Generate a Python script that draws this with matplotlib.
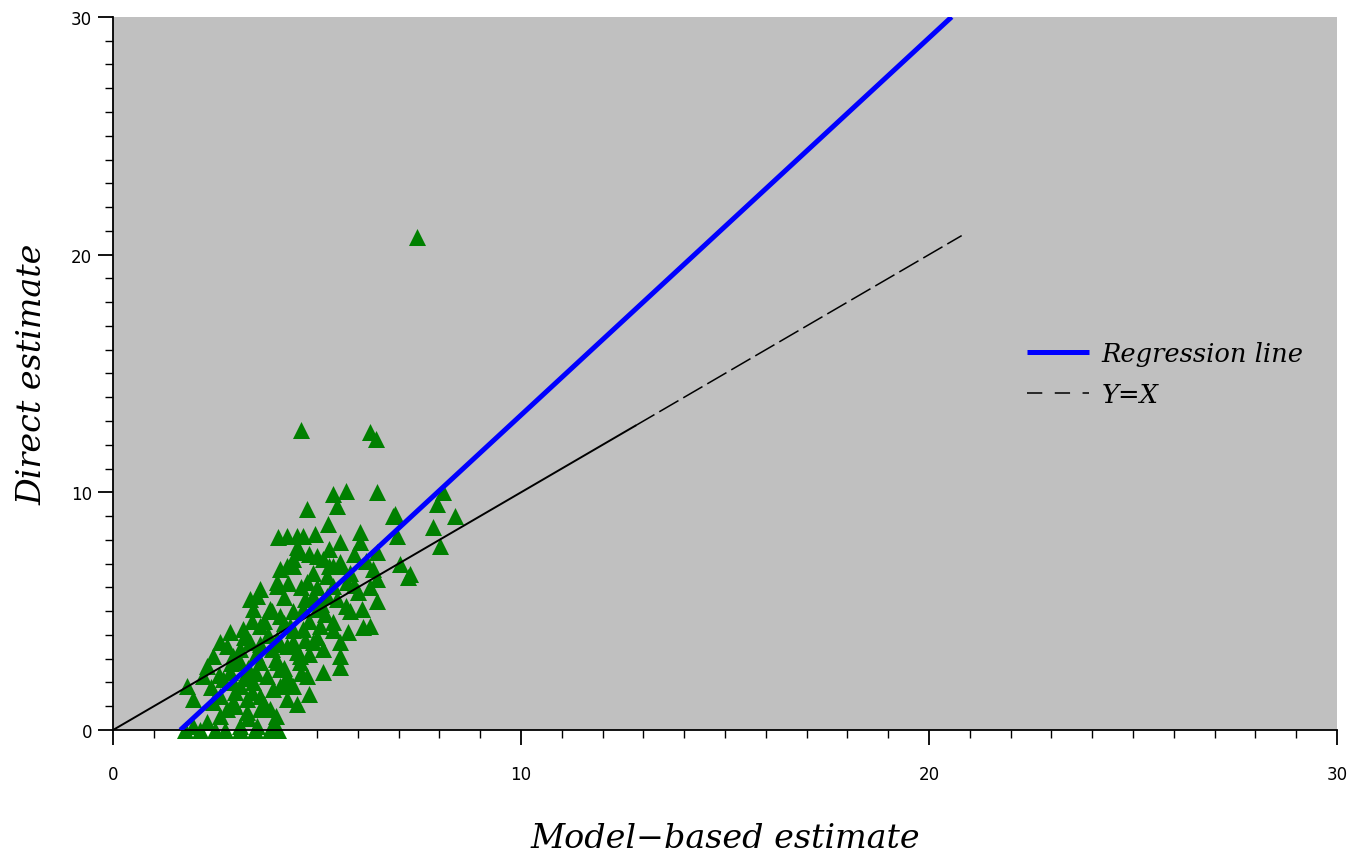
import numpy as np
import matplotlib.pyplot as plt
from matplotlib.ticker import MultipleLocator

plt.rcParams['lines.scale_dashes'] = False

# scatter points (model-based, direct)
model_est = [
    7.45, 4.61, 6.30, 6.45, 5.71, 5.39, 5.49, 6.47, 4.75, 5.27,
    6.86, 6.96, 6.05, 6.05, 5.56, 4.04, 4.26, 4.51, 4.66, 4.95,
    8.09, 7.94, 8.38, 7.84, 8.01, 7.03, 7.23, 6.47, 6.37, 6.47,
    6.47, 6.30, 6.13, 5.81, 5.76, 5.56, 5.56, 5.56, 5.15, 4.75,
    5.15, 4.58, 1.81, 2.30, 2.62, 2.87, 3.36, 3.53, 3.85, 3.43,
    4.02, 4.09, 4.41, 4.58, 5.00, 5.15, 5.39, 5.56, 5.25, 5.74,
    4.75, 3.60, 3.19, 2.79, 2.45, 2.21, 1.96, 2.45, 2.62, 2.30,
    1.96, 3.11, 3.53, 3.92, 3.28, 3.60, 3.92, 4.26, 3.77, 4.09,
    4.58, 3.28, 3.60, 3.11, 4.41, 4.02, 3.36, 2.94, 2.87, 2.70,
    3.11, 4.09, 4.34, 4.66, 4.90, 5.25, 5.39, 5.00, 4.66, 5.07,
    5.39, 4.90, 4.26, 4.02, 4.26, 4.41, 4.09, 3.60, 3.28, 3.85,
    2.94, 3.43, 3.11, 2.62, 2.94, 4.26, 4.02, 3.60, 6.91, 7.28,
    1.77, 2.13, 2.50, 2.74, 3.11, 3.48, 3.85, 4.04,
    4.40, 4.70, 5.00, 4.20, 3.80, 3.50, 4.50, 5.20, 5.50, 4.80,
    3.30, 3.90, 4.30, 5.80, 6.00, 5.60, 6.20, 4.50, 3.70, 3.20,
    3.00, 3.40, 3.70, 4.00, 3.30, 2.80, 4.30, 4.60, 4.00, 3.60,
    4.80, 5.00, 4.40, 3.90, 4.20, 4.60, 4.90, 5.30, 5.10, 5.70,
    5.90, 4.10, 3.40, 2.90, 2.60, 2.40, 3.00, 4.80, 4.50, 3.20,
    4.40, 4.80, 5.30, 5.90, 6.30, 6.10, 5.40, 4.70, 3.50, 4.20,
]
direct_est = [
    20.74, 12.62, 12.54, 12.24, 10.05, 9.93, 9.42, 10.01, 9.30, 8.67,
    9.00, 8.16, 8.33, 7.91, 7.91, 8.12, 8.16, 8.16, 8.16, 8.25,
    10.00, 9.50, 9.00, 8.54, 7.74, 6.98, 6.44, 7.49, 6.77, 6.35,
    5.43, 4.38, 4.33, 5.00, 4.12, 3.70, 3.11, 2.65, 2.44, 2.27,
    3.41, 3.11, 1.85, 2.69, 3.70, 4.12, 5.51, 5.64, 5.09, 5.09,
    6.06, 6.77, 6.90, 7.49, 7.32, 7.19, 6.90, 7.07, 6.48, 6.23,
    6.23, 4.38, 4.25, 3.53, 3.11, 2.27, 1.30, 1.18, 0.59, 0.34,
    0.17, 0.17, 0.17, 0.17, 1.30, 1.43, 1.72, 1.30, 2.27, 2.57,
    2.86, 2.27, 2.86, 2.86, 3.70, 3.83, 3.70, 3.11, 2.44, 2.15,
    3.41, 4.80, 4.38, 5.09, 5.64, 5.64, 6.06, 5.09, 4.25, 4.38,
    4.54, 3.70, 3.53, 2.86, 2.27, 1.85, 1.85, 0.88, 0.76, 0.88,
    1.18, 2.02, 1.85, 1.43, 2.02, 6.90, 6.23, 5.93, 9.09, 6.56,
    0.0, 0.0, 0.0, 0.0, 0.0, 0.0, 0.0, 0.0,
    5.00, 5.50, 6.00, 4.50, 4.00, 3.20, 3.30, 4.90, 5.50, 4.60,
    2.60, 3.40, 6.20, 6.60, 5.80, 6.90, 7.10, 7.70, 4.60, 3.90,
    1.00, 1.60, 1.10, 0.60, 0.50, 0.90, 2.00, 2.40, 3.00, 3.60,
    3.20, 3.90, 4.20, 5.00, 5.60, 6.00, 6.60, 6.90, 5.30, 5.20,
    6.10, 3.60, 4.60, 2.80, 2.30, 1.80, 1.60, 1.50, 1.10, 2.20,
    7.20, 7.40, 7.60, 7.40, 6.00, 5.10, 4.20, 3.80, 2.40, 2.60,
]

# fitted regression line
reg_intercept = -2.62
reg_slope = 1.587

# Y=X reference line, solid first part then dashed
yx_breaks = [0.0, 12.8, 20.8]

fig = plt.figure(figsize=(13.6, 8.54), dpi=100)
ax = fig.add_axes([0.0831, 0.144, 0.9, 0.835])
ax.set_facecolor('#c0c0c0')

ax.scatter(model_est, direct_est, marker='^', s=150, color='#008000',
           linewidths=0, clip_on=False, zorder=2)

reg_x = np.array([-reg_intercept / reg_slope, (30 - reg_intercept) / reg_slope])
reg_line, = ax.plot(reg_x, reg_intercept + reg_slope * reg_x, color='#0000ff',
                    lw=3.6, zorder=4, solid_capstyle='butt')

ax.plot(yx_breaks[:2], yx_breaks[:2], color='black', lw=1.4, zorder=3)
yx_line, = ax.plot(yx_breaks[1:], yx_breaks[1:], color='black', lw=1.1, zorder=3)
yx_line.set_dashes((16, 4))

ax.set_xlim(0, 30)
ax.set_ylim(0, 30)
for side in ('top', 'right'):
    ax.spines[side].set_visible(False)
for side in ('left', 'bottom'):
    ax.spines[side].set_linewidth(1.3)

ax.xaxis.set_major_locator(MultipleLocator(10))
ax.yaxis.set_major_locator(MultipleLocator(10))
ax.xaxis.set_minor_locator(MultipleLocator(1))
ax.yaxis.set_minor_locator(MultipleLocator(1))
ax.tick_params(which='major', length=11, width=1.3, direction='out',
               labelsize=12, pad=14)
ax.tick_params(which='minor', length=6, width=1.0, direction='out')
ax.tick_params(axis='y', which='major', pad=4)

label_font = dict(family='DejaVu Serif', style='italic', fontsize=24)
ax.set_xlabel('Model\u2212based estimate', labelpad=28, **label_font)
ax.set_ylabel('Direct estimate', labelpad=16, **label_font)

leg = ax.legend([reg_line, yx_line], ['Regression line', 'Y=X'], loc='upper left',
                bbox_to_anchor=(0.728, 0.578), frameon=False,
                prop=dict(family='DejaVu Serif', style='italic', size=18.5),
                handlelength=2.4, handletextpad=0.5, labelspacing=0.62)
leg.legend_handles[1].set_dashes((11, 9))

fig.savefig('out.png', dpi=100)
